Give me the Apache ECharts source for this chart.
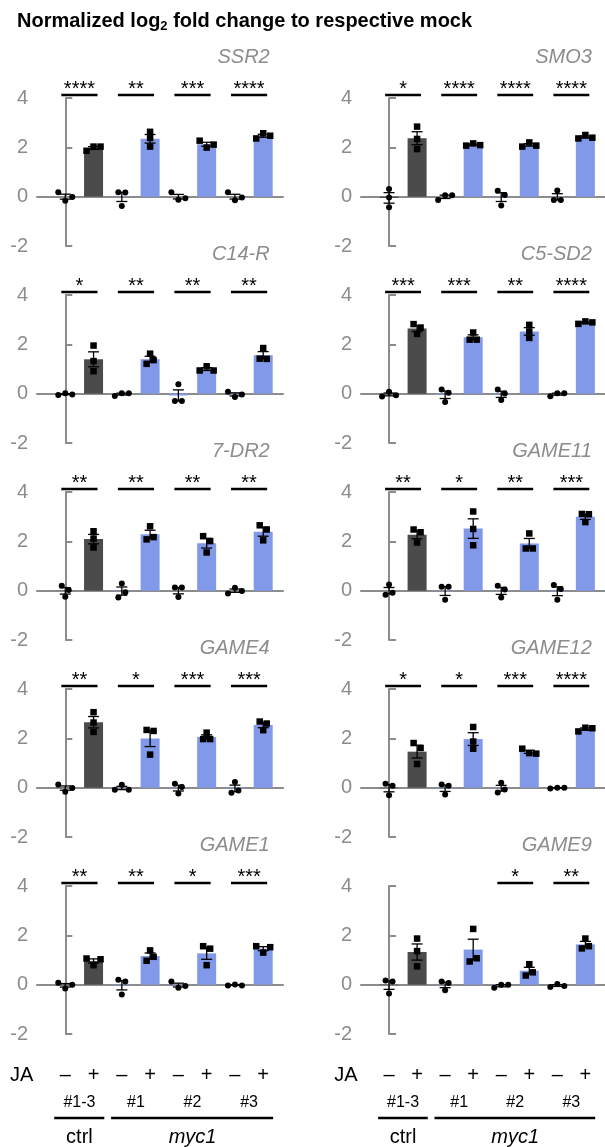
<!DOCTYPE html>
<html><head><meta charset="utf-8">
<script src="https://cdn.jsdelivr.net/npm/echarts@6/dist/echarts.min.js"></script>
<style>html,body{margin:0;padding:0;background:#fff}#c{width:605px;height:1147px}</style>
</head><body><div id="c"></div>
<script>
// ---------------- data ----------------
const genes = ['SSR2', 'SMO3', 'C14-R', 'C5-SD2', '7-DR2', 'GAME11', 'GAME4', 'GAME12', 'GAME1', 'GAME9'];
const treatment = ['–', '+', '–', '+', '–', '+', '–', '+'];
const lineLabels = ['#1-3', '#1', '#2', '#3'];
const groupNames = ['ctrl', 'myc1'];
const yMin = -2, yMax = 4, yStep = 2;

// replicates per bar: ctrl–, ctrl+, #1–, #1+, #2–, #2+, #3–, #3+
const SSR2 = [[0.18, -0.17, -0.01], [1.86, 2.03, 2.03], [0.18, 0.17, -0.38], [2.63, 2.03, 2.38], [0.18, -0.12, -0.06], [2.27, 1.99, 2.11], [0.18, -0.15, -0.03], [2.36, 2.57, 2.47]];
const SMO3 = [[0.31, -0.43, -0.03], [2.84, 2.34, 1.93], [-0.14, 0.06, 0.06], [2.07, 2.16, 2.09], [0.24, -0.36, 0.07], [2.03, 2.2, 2.07], [-0.14, 0.25, -0.14], [2.36, 2.5, 2.39]];
const C14_R = [[-0.05, 0.02, -0.03], [1.95, 1.32, 0.91], [-0.09, 0.02, 0.02], [1.21, 1.62, 1.36], [0.38, -0.3, -0.3], [0.94, 1.11, 0.94], [0.08, -0.14, -0.03], [1.42, 1.85, 1.41]];
const C5_SD2 = [[-0.11, 0.08, -0.06], [2.82, 2.42, 2.68], [0.17, -0.34, 0.04], [2.19, 2.48, 2.19], [0.17, -0.26, 0.01], [2.79, 2.26, 2.52], [-0.1, 0.02, 0.02], [2.83, 2.93, 2.89]];
const DR2_7 = [[0.2, -0.25, 0.03], [2.41, 2.11, 1.75], [0.29, -0.28, -0.06], [2.08, 2.61, 2.17], [0.13, -0.26, 0.13], [2.21, 2.01, 1.55], [-0.11, 0.12, -0.01], [2.65, 2.04, 2.48]];
const GAME11 = [[-0.17, 0.25, -0.08], [2.48, 1.95, 2.37], [0.16, -0.37, 0.16], [3.21, 2.5, 1.84], [0.2, -0.28, 0.05], [1.71, 2.32, 1.71], [0.23, -0.37, 0.07], [3.11, 2.78, 3.1]];
const GAME4 = [[0.13, -0.17, -0.01], [3.06, 2.64, 2.26], [-0.08, 0.12, -0.08], [2.34, 1.34, 2.3], [0.16, -0.24, 0.03], [2.23, 1.97, 1.97], [-0.21, 0.23, -0.11], [2.68, 2.33, 2.6]];
const GAME12 = [[0.16, -0.31, 0.08], [1.81, 0.96, 1.61], [0.13, -0.28, 0.08], [2.46, 1.87, 1.58], [-0.2, 0.2, -0.07], [1.58, 1.4, 1.38], [-0.03, 0.0, 0.0], [2.28, 2.43, 2.41]];
const GAME1 = [[0.08, -0.16, 0.0], [1.06, 0.79, 1.03], [0.2, -0.4, 0.13], [0.97, 1.39, 1.13], [0.13, -0.13, -0.05], [1.56, 0.79, 1.46], [-0.03, 0.01, -0.03], [1.56, 1.3, 1.52]];
const GAME9 = [[0.17, -0.36, 0.13], [1.87, 1.36, 0.74], [0.13, -0.23, 0.07], [2.26, 0.94, 1.07], [-0.13, 0.0, 0.0], [0.83, 0.37, 0.5], [-0.09, 0.03, -0.05], [1.87, 1.47, 1.56]];

// significance per group: ctrl, #1, #2, #3
const SSR2_sig = ['****', '**', '***', '****'];
const SMO3_sig = ['*', '****', '****', '****'];
const C14_R_sig = ['*', '**', '**', '**'];
const C5_SD2_sig = ['***', '***', '**', '****'];
const DR2_7_sig = ['**', '**', '**', '**'];
const GAME11_sig = ['**', '*', '**', '***'];
const GAME4_sig = ['**', '*', '***', '***'];
const GAME12_sig = ['*', '*', '***', '****'];
const GAME1_sig = ['**', '**', '*', '***'];
const GAME9_sig = ['', '', '*', '**'];

const replicates = [SSR2, SMO3, C14_R, C5_SD2, DR2_7, GAME11, GAME4, GAME12, GAME1, GAME9];
const significance = [SSR2_sig, SMO3_sig, C14_R_sig, C5_SD2_sig, DR2_7_sig, GAME11_sig, GAME4_sig, GAME12_sig, GAME1_sig, GAME9_sig];

// ---------------- style ----------------
const FONT = "'Liberation Sans', Arial, sans-serif";
const GRAY = '#8c8c8c';
const DARK = '#4b4b4b';
const BLUE = '#8299e9';
const GRID_W = 246, GRID_H = 148, ROW_STEP = 197, TOP0 = 98;
const COL_LEFT = [37, 361];
const PX_PER_UNIT = GRID_H / (yMax - yMin);

function mean(a) { return a.reduce((s, v) => s + v, 0) / a.length; }
function sem(a) {
  const m = mean(a);
  const sd = Math.sqrt(a.reduce((s, v) => s + (v - m) * (v - m), 0) / (a.length - 1));
  return sd / Math.sqrt(a.length);
}
// beeswarm-like horizontal spread (pixels) for overlapping points
function spread(vals, size) {
  const thr = size / PX_PER_UNIT;
  const idx = vals.map((v, i) => i).sort((a, b) => vals[b] - vals[a]);
  const clusters = [];
  let cur = [idx[0]];
  for (let k = 1; k < idx.length; k++) {
    if (Math.abs(vals[idx[k - 1]] - vals[idx[k]]) < thr) cur.push(idx[k]);
    else { clusters.push(cur); cur = [idx[k]]; }
  }
  clusters.push(cur);
  const off = new Array(vals.length).fill(0);
  clusters.forEach(c => {
    c.sort((a, b) => a - b);
    c.forEach((id, k) => { off[id] = (k - (c.length - 1) / 2) * 7; });
  });
  return off;
}

const grids = [], xAxes = [], yAxes = [], series = [];

replicates.forEach((reps, k) => {
  const row = Math.floor(k / 2), col = k % 2;
  grids.push({ left: COL_LEFT[col], top: TOP0 + ROW_STEP * row, width: GRID_W, height: GRID_H });
  xAxes.push({
    gridIndex: k, type: 'value', min: -1, max: 7.7,
    axisLine: { show: true, onZero: true, lineStyle: { color: GRAY, width: 2 } },
    axisTick: { show: false }, axisLabel: { show: false }, splitLine: { show: false }
  });
  yAxes.push({
    gridIndex: k, type: 'value', min: yMin, max: yMax, interval: yStep,
    axisLine: { show: true, lineStyle: { color: GRAY, width: 2 } },
    axisTick: { show: true, inside: true, length: 7, lineStyle: { color: GRAY, width: 2 } },
    axisLabel: { color: GRAY, fontSize: 20, fontFamily: FONT, margin: 9 },
    splitLine: { show: false }
  });

  const means = reps.map(mean);
  const sems = reps.map(sem);

  series.push({
    type: 'bar', xAxisIndex: k, yAxisIndex: k, barWidth: 19, z: 2, silent: true,
    data: means.map((m, i) => ({ value: [i, m], itemStyle: { color: i < 2 ? DARK : BLUE } }))
  });

  series.push({
    type: 'custom', xAxisIndex: k, yAxisIndex: k, z: 3, clip: false, silent: true,
    data: means.map((m, i) => [i, m, sems[i]]),
    renderItem: (params, api) => {
      const i = api.value(0), m = api.value(1), s = api.value(2);
      const t = api.coord([i, m + s]), b = api.coord([i, m - s]);
      const x = t[0], hw = 5.5;
      const st = { stroke: '#000', lineWidth: 1.3 };
      return {
        type: 'group', children: [
          { type: 'line', shape: { x1: x, y1: t[1], x2: x, y2: b[1] }, style: st },
          { type: 'line', shape: { x1: x - hw, y1: t[1], x2: x + hw, y2: t[1] }, style: st },
          { type: 'line', shape: { x1: x - hw, y1: b[1], x2: x + hw, y2: b[1] }, style: st }
        ]
      };
    }
  });

  const pts = [];
  reps.forEach((vals, i) => {
    const off = spread(vals, 6);
    vals.forEach((v, j) => {
      pts.push({
        value: [i, v],
        symbol: i % 2 ? 'rect' : 'circle',
        symbolSize: i % 2 ? 6.5 : 6,
        symbolOffset: [off[j], 0]
      });
    });
  });
  series.push({
    type: 'scatter', xAxisIndex: k, yAxisIndex: k, z: 4, silent: true,
    itemStyle: { color: '#000', opacity: 1 }, data: pts
  });

  const sig = significance[k];
  const sigData = [];
  sig.forEach((s, g) => { if (s) sigData.push([g * 2 + 0.5, 4.12, g]); });
  series.push({
    type: 'custom', xAxisIndex: k, yAxisIndex: k, z: 5, clip: false, silent: true,
    data: sigData,
    renderItem: (params, api) => {
      const c = api.coord([api.value(0), api.value(1)]);
      const l = api.coord([api.value(0) - 0.64, 0])[0];
      const r = api.coord([api.value(0) + 0.64, 0])[0];
      const txt = sig[api.value(2)];
      return {
        type: 'group', children: [
          { type: 'line', shape: { x1: l, y1: c[1], x2: r, y2: c[1] }, style: { stroke: '#000', lineWidth: 2.6 } },
          { type: 'text', x: c[0], y: c[1] - 6, style: { text: txt, fill: '#000', fontSize: 20, fontFamily: FONT, align: 'center', verticalAlign: 'middle' } }
        ]
      };
    }
  });

  series.push({
    type: 'custom', xAxisIndex: k, yAxisIndex: k, z: 5, clip: false, silent: true,
    data: [[7.23, 5.66]],
    renderItem: (params, api) => {
      const c = api.coord([api.value(0), api.value(1)]);
      return {
        type: 'text', x: c[0], y: c[1],
        style: { text: genes[k], fill: GRAY, fontSize: 20, fontStyle: 'italic', fontFamily: FONT, align: 'right', verticalAlign: 'middle' }
      };
    }
  });

  if (row === 4) {
    series.push({
      type: 'custom', xAxisIndex: k, yAxisIndex: k, z: 5, clip: false, silent: true,
      data: [[0, yMin]],
      renderItem: (params, api) => {
        const base = api.coord([0, yMin])[1];
        const X = v => api.coord([v, 0])[0];
        const ch = [];
        const txt = (t, x, y, size, italic) => ch.push({
          type: 'text', x: x, y: y,
          style: { text: t, fill: '#000', fontSize: size, fontStyle: italic ? 'italic' : 'normal', fontFamily: FONT, align: 'center', verticalAlign: 'middle' }
        });
        txt('JA', X(-1.54), base + 41, 20);
        treatment.forEach((t, i) => txt(t, X(i), base + 41, 20));
        lineLabels.forEach((t, g) => txt(t, X(g * 2 + 0.5), base + 69, 16));
        const ln = (a, b) => ch.push({ type: 'line', shape: { x1: X(a), y1: base + 84, x2: X(b), y2: base + 84 }, style: { stroke: '#000', lineWidth: 2.6 } });
        ln(-0.39, 1.38); ln(1.62, 7.35);
        txt(groupNames[0], X(0.5), base + 103, 20);
        txt(groupNames[1], X(4.5), base + 103, 20, true);
        return { type: 'group', children: ch };
      }
    });
  }
});

// title with subscript
const cv = document.createElement('canvas').getContext('2d');
cv.font = "bold 20px " + FONT;
const w1 = cv.measureText('Normalized log').width;
cv.font = "bold 13px " + FONT;
const w2 = cv.measureText('2').width;

const chart = echarts.init(document.getElementById('c'), null, { renderer: 'canvas' });
chart.setOption({
  animation: false,
  backgroundColor: '#fff',
  grid: grids, xAxis: xAxes, yAxis: yAxes, series: series,
  graphic: [
    { type: 'text', left: 17, top: 11, style: { text: 'Normalized log', fill: '#000', fontSize: 20, fontWeight: 'bold', fontFamily: FONT } },
    { type: 'text', left: 17 + w1, top: 20, style: { text: '2', fill: '#000', fontSize: 13, fontWeight: 'bold', fontFamily: FONT } },
    { type: 'text', left: 17 + w1 + w2, top: 11, style: { text: ' fold change to respective mock', fill: '#000', fontSize: 20, fontWeight: 'bold', fontFamily: FONT } }
  ]
});
</script></body></html>
